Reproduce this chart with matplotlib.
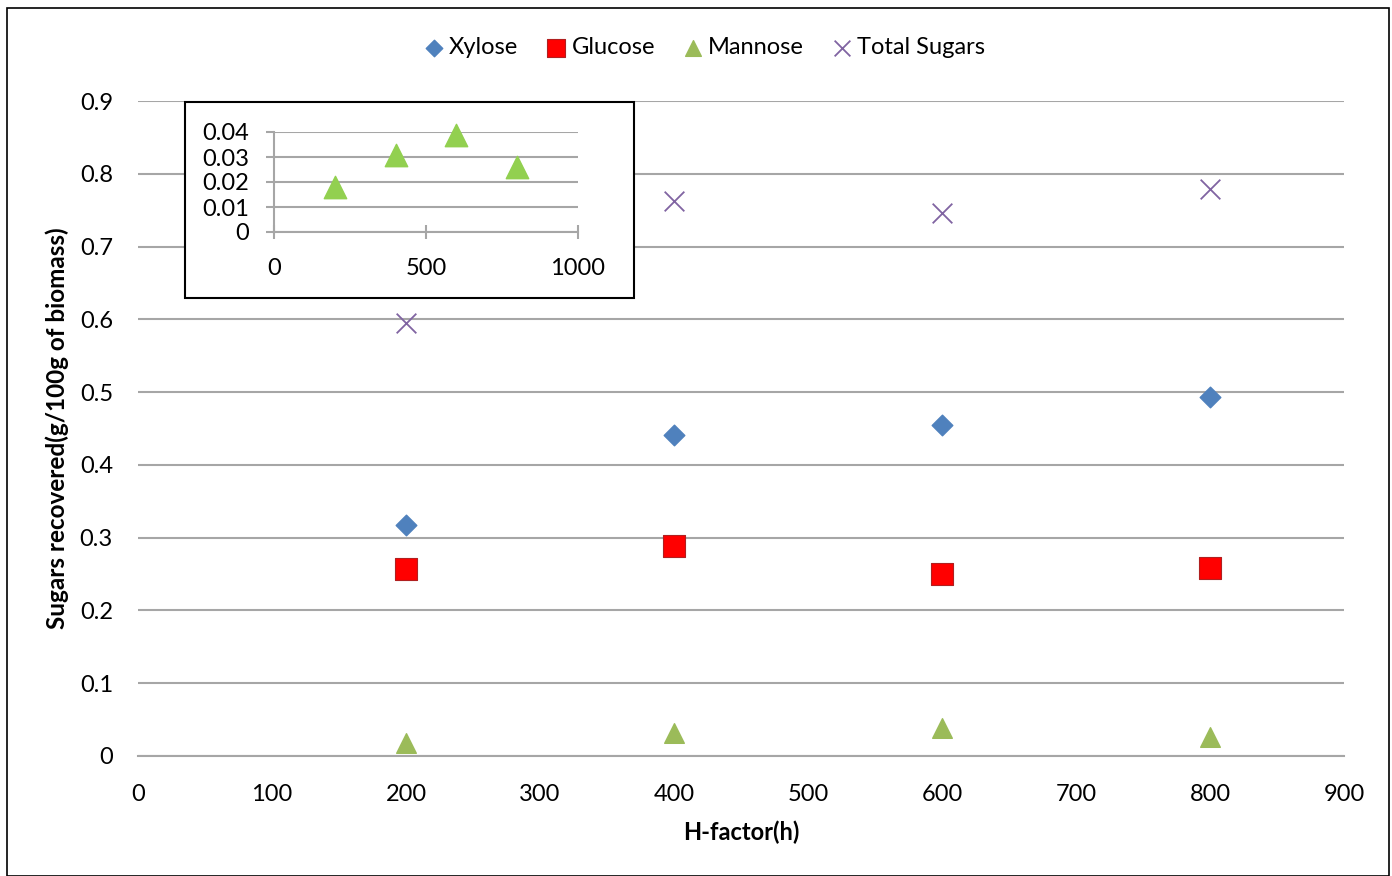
import matplotlib.pyplot as plt
from matplotlib.patches import Rectangle

plt.rcParams['font.family'] = ['Lato', 'DejaVu Sans']

h_factor = [200, 400, 600, 800]
xylose = [0.317, 0.441, 0.455, 0.493]
glucose = [0.257, 0.288, 0.250, 0.258]
mannose = [0.018, 0.031, 0.039, 0.026]
total_sugars = [0.595, 0.762, 0.746, 0.779]

x_ticks = [0, 100, 200, 300, 400, 500, 600, 700, 800, 900]
y_ticks = [0, 0.1, 0.2, 0.3, 0.4, 0.5, 0.6, 0.7, 0.8, 0.9]
inset_x_ticks = [0, 500, 1000]
inset_y_ticks = [0, 0.01, 0.02, 0.03, 0.04]

grid_color = '#a6a6a6'


def main():
    fig = plt.figure(figsize=(13.92, 8.76), dpi=100)
    fig.patches.append(Rectangle((0.005, 0.0), 0.993, 0.991, transform=fig.transFigure,
                                 fill=False, edgecolor='black', linewidth=1.2))

    ax = fig.add_axes([0.0991, 0.137, 0.8664, 0.7477])
    ax.scatter(h_factor, xylose, marker='D', s=110, color='#4f81bd', label='Xylose', zorder=3)
    ax.scatter(h_factor, glucose, marker='s', s=240, color='#ff0000', edgecolor='#b02020',
               linewidth=0.8, label='Glucose', zorder=3)
    ax.scatter(h_factor, mannose, marker='^', s=200, color='#9bbb59', label='Mannose', zorder=3)
    ax.scatter(h_factor, total_sugars, marker='x', s=200, color='#8064a2', linewidth=1.3,
               label='Total Sugars', zorder=3)

    ax.set_xlim(0, 900)
    ax.set_ylim(0, 0.9)
    ax.set_xticks(x_ticks)
    ax.set_yticks(y_ticks)
    ax.set_yticklabels(['0'] + [f'{v:.1f}' for v in y_ticks[1:]])
    ax.grid(axis='y', color=grid_color, linewidth=1.5)
    ax.set_axisbelow(True)
    for side in ['left', 'right', 'top']:
        ax.spines[side].set_visible(False)
    ax.spines['bottom'].set_color(grid_color)
    ax.spines['bottom'].set_linewidth(1.5)
    ax.tick_params(length=0, labelsize=17)
    ax.tick_params(axis='x', pad=20)
    ax.tick_params(axis='y', pad=18)
    ax.set_xlabel('H-factor(h)', fontsize=17, fontweight='bold', labelpad=11)
    ax.set_ylabel('Sugars recovered(g/100g of biomass)', fontsize=17.5, fontweight='bold',
                  labelpad=8)

    ax.legend(loc='center', bbox_to_anchor=(0.469, 1.081), ncol=4, frameon=False,
              fontsize=17, handlelength=1.0, handletextpad=0.15, columnspacing=1.1,
              scatterpoints=1, markerscale=0.8)

    # inset box
    fig.patches.append(Rectangle((185 / 1392, 1 - 298 / 876), 449 / 1392, 196 / 876,
                                 transform=fig.transFigure, facecolor='white',
                                 edgecolor='black', linewidth=1.5, zorder=5))
    ins = fig.add_axes([274 / 1392, 1 - 232 / 876, 304 / 1392, 100 / 876], zorder=6)
    ins.patch.set_alpha(0)
    ins.scatter(h_factor, mannose, marker='^', s=260, color='#92d050', zorder=3, clip_on=False)
    ins.set_xlim(0, 1000)
    ins.set_ylim(0, 0.04)
    ins.set_xticks(inset_x_ticks)
    ins.set_yticks(inset_y_ticks)
    ins.set_yticklabels(['0', '0.01', '0.02', '0.03', '0.04'])
    ins.grid(axis='y', color=grid_color, linewidth=1.5)
    ins.set_axisbelow(True)
    for side in ['right', 'top']:
        ins.spines[side].set_visible(False)
    for side in ['left', 'bottom']:
        ins.spines[side].set_color(grid_color)
        ins.spines[side].set_linewidth(1.5)
    ins.tick_params(axis='y', direction='out', length=6, color=grid_color, width=1.5,
                    labelsize=17, pad=12)
    ins.tick_params(axis='x', direction='inout', length=10, color=grid_color, width=1.5,
                    labelsize=17, pad=14)

    fig.savefig('out.png', dpi=100)


if __name__ == '__main__':
    main()
